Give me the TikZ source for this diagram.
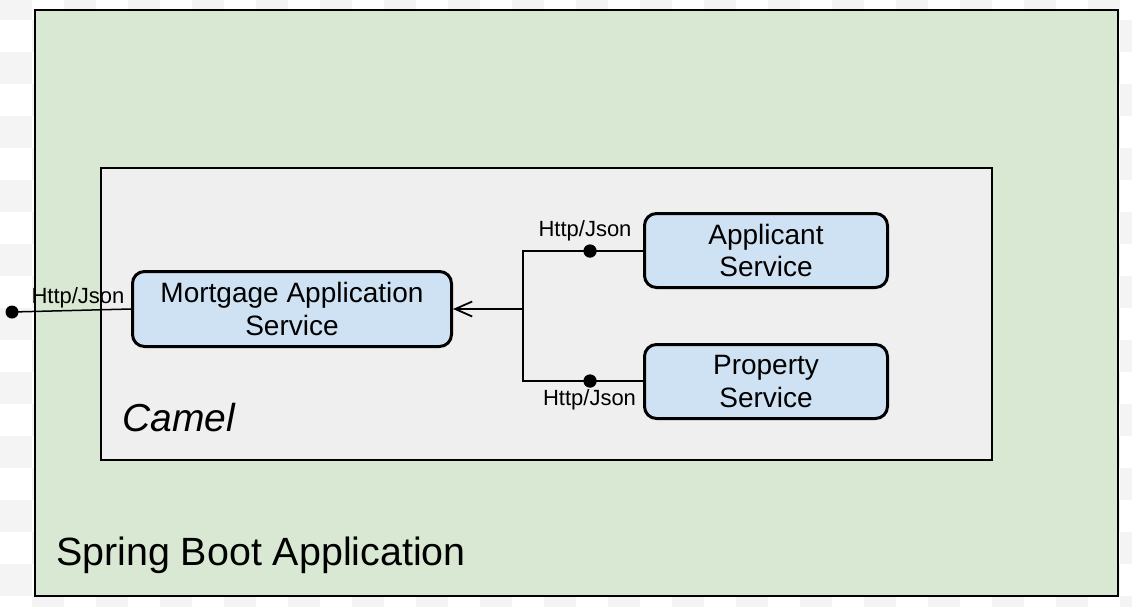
\documentclass[tikz,border=0pt]{standalone}
\usepackage{fontspec}
\setmainfont{Liberation Sans}
\usetikzlibrary{arrows.meta}
\definecolor{springgreen}{HTML}{D9E8D3}
\definecolor{camelgray}{HTML}{EFEFEF}
\definecolor{svcblue}{HTML}{CFE2F3}
\definecolor{checker}{HTML}{F4F4F4}
\tikzset{
  container/.style={draw=black, inner sep=0pt, outer sep=0pt},
  svc/.style={draw=black, line width=3pt, fill=svcblue, rounded corners=12pt,
    align=center, inner sep=0pt, font=\fontsize{28}{32.5}\selectfont},
  lbl/.style={inner sep=0pt, font=\fontsize{22}{26}\selectfont},
  conn/.style={line width=1.5pt},
  dotmark/.style={circle, fill=black, inner sep=0pt, minimum size=13pt}
}
\begin{document}
\begin{tikzpicture}[x=1pt, y=-1pt]
\useasboundingbox (0,0) rectangle (1132,606);
\clip (0,0) rectangle (1132,606);
% transparency checkerboard
\foreach \i in {0,...,35}{
  \foreach \j in {0,...,19}{
    \pgfmathtruncatemacro\s{mod(\i+\j,2)}
    \ifnum\s=0
      \fill[checker] (32*\i,-12+32*\j) rectangle ++(32,32);
    \fi
  }
}
% containers
\node[container, line width=2pt, fill=springgreen, minimum width=1083pt, minimum height=586pt]
  (spring) at (576.5,303) {};
\node[container, line width=1.5pt, fill=camelgray, minimum width=891pt, minimum height=292pt]
  (camel) at (546.5,314) {};
\node[anchor=west, inner sep=0pt, font=\fontsize{39.4}{44}\selectfont] (springlbl) at (56,555) {Spring Boot Application};
\node[anchor=west, inner sep=0pt, font=\fontsize{39}{44}\selectfont\itshape] (camellbl) at (122,418) {Camel};
% services
\node[svc, minimum width=319pt, minimum height=75pt] (mort) at (292,309) {Mortgage Application\\Service};
\node[svc, minimum width=243pt, minimum height=74pt] (appl) at (766,250.5) {Applicant\\Service};
\node[svc, minimum width=243pt, minimum height=74pt] (prop) at (766,381.5) {Property\\Service};
% external endpoint
\node[dotmark] (ext) at (12,312) {};
\draw[conn] (ext.center) -- (mort.west);
\node[lbl] (extlbl) at (78,298) {Http/Json};
% branch
\coordinate (junc) at (523,309);
\node[dotmark] (dotA) at (590,251) {};
\node[dotmark] (dotP) at (590,381) {};
\coordinate (cornA) at (junc |- dotA);
\coordinate (cornP) at (junc |- dotP);
\draw[conn] (appl.west |- dotA) -- (dotA.center) -- (cornA) -- (cornP) -- (dotP.center) -- (prop.west |- dotP);
\node[dotmark] at (dotA) {};
\node[dotmark] at (dotP) {};
\draw[conn, -{Straight Barb[length=17pt, width=15pt, line width=1.8pt]}] (junc) -- (mort.east);
\node[lbl] (lblA) at (585,231) {Http/Json};
\node[lbl] (lblP) at (589.5,400) {Http/Json};
\end{tikzpicture}
\end{document}
